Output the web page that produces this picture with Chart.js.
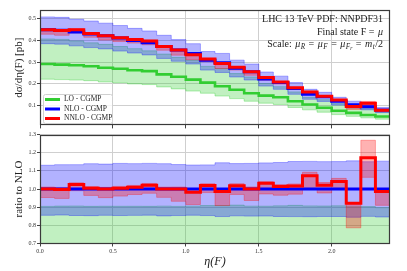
<!DOCTYPE html>
<html><head><meta charset="utf-8">
<script src="https://cdn.jsdelivr.net/npm/chart.js@4.4.1/dist/chart.umd.min.js"></script>
<style>
html,body{margin:0;padding:0;background:#fff;}
#wrap{position:relative;width:407px;height:271px;background:#fff;}
#top{position:absolute;left:0;top:0;}
#bot{position:absolute;left:0;top:130px;}
</style></head><body>
<div id="wrap"><canvas id="top" width="407" height="130"></canvas><canvas id="bot" width="407" height="141"></canvas></div>
<script>
// ---- data ----
const etaEdges = [0.0,0.1,0.2,0.3,0.4,0.5,0.6,0.7,0.8,0.9,1.0,1.1,1.2,1.3,1.4,1.5,1.6,1.7,1.8,1.9,2.0,2.1,2.2,2.3,2.4];
const loCentral = [0.291,0.288,0.285,0.281,0.274,0.269,0.262,0.258,0.243,0.232,0.219,0.205,0.188,0.172,0.156,0.145,0.137,0.119,0.104,0.089,0.075,0.065,0.055,0.048];
const loLow = [0.221,0.219,0.217,0.214,0.208,0.204,0.199,0.196,0.185,0.176,0.166,0.156,0.143,0.131,0.119,0.110,0.104,0.090,0.079,0.068,0.057,0.049,0.042,0.036];
const loHigh = [0.407,0.405,0.398,0.389,0.382,0.372,0.362,0.352,0.337,0.322,0.308,0.280,0.270,0.247,0.231,0.201,0.186,0.162,0.137,0.126,0.108,0.093,0.084,0.070];
const nloCentral = [0.450,0.447,0.439,0.430,0.422,0.411,0.400,0.389,0.372,0.356,0.340,0.308,0.297,0.271,0.255,0.222,0.205,0.178,0.151,0.139,0.119,0.103,0.093,0.078];
const nloLow = [0.385,0.383,0.375,0.367,0.361,0.351,0.342,0.333,0.317,0.304,0.291,0.263,0.252,0.231,0.217,0.189,0.174,0.151,0.128,0.118,0.101,0.087,0.079,0.066];
const nloHigh = [0.509,0.507,0.498,0.490,0.480,0.469,0.456,0.444,0.424,0.404,0.385,0.349,0.340,0.309,0.291,0.254,0.235,0.205,0.174,0.160,0.137,0.119,0.107,0.090];
const nnloCentral = [0.450,0.446,0.450,0.432,0.422,0.413,0.404,0.397,0.372,0.356,0.334,0.314,0.293,0.276,0.255,0.229,0.208,0.181,0.162,0.142,0.124,0.095,0.109,0.077];
const nnloLow = [0.429,0.424,0.435,0.415,0.402,0.395,0.388,0.380,0.355,0.332,0.311,0.302,0.270,0.263,0.239,0.216,0.198,0.173,0.151,0.136,0.119,0.081,0.099,0.071];
const nnloHigh = [0.455,0.451,0.454,0.436,0.426,0.417,0.408,0.401,0.376,0.360,0.337,0.317,0.296,0.279,0.258,0.231,0.210,0.183,0.165,0.144,0.126,0.095,0.118,0.078];
const xTicks = [0.0,0.5,1.0,1.5,2.0];
const yTicksTop = [0.1,0.2,0.3,0.4,0.5];
const yTicksRatio = [0.7,0.8,0.9,1.0,1.1,1.2,1.3];
const seriesNames = ['LO - CGMP','NLO - CGMP','NNLO - CGMP'];
const annotationLines = ['LHC 13 TeV PDF: NNPDF31','Final state F = ','Scale: '];

// ---- styling ----
const SERIF = "'Liberation Serif','DejaVu Serif',serif";
const C = {
  lo:'rgb(50,205,50)', loBand:'rgba(50,205,50,0.3)', loEdge:'rgba(50,205,50,0.35)',
  nlo:'rgb(0,0,255)', nloBand:'rgba(0,0,255,0.3)', nloEdge:'rgba(0,0,255,0.3)',
  nnlo:'rgb(255,0,0)', nnloBand:'rgba(255,0,0,0.3)', nnloEdge:'rgba(255,0,0,0.3)'
};
const gridColor = '#cfcfcf';

function steps(arr){ return etaEdges.map((x,i)=>({x:x, y:arr[Math.min(i,arr.length-1)]})); }
function ratio(a){ return a.map((v,i)=>v/nloCentral[i]); }

function buildDatasets(get){
  const band = (lo,hi,fillC,edgeC,ord)=>[
    {data:steps(get(lo)), stepped:'before', borderColor:edgeC, borderWidth:1, pointRadius:0, fill:false, order:ord},
    {data:steps(get(hi)), stepped:'before', borderColor:edgeC, borderWidth:1, pointRadius:0, fill:'-1', backgroundColor:fillC, order:ord}
  ];
  return [
    ...band(loLow,loHigh,C.loBand,C.loEdge,10),
    ...band(nloLow,nloHigh,C.nloBand,C.nloEdge,9),
    ...band(nnloLow,nnloHigh,C.nnloBand,C.nnloEdge,8),
    {data:steps(get(loCentral)), stepped:'before', borderColor:C.lo, borderWidth:2.6, pointRadius:0, fill:false, order:3},
    {data:steps(get(nloCentral)), stepped:'before', borderColor:C.nlo, borderWidth:3, pointRadius:0, fill:false, order:2},
    {data:steps(get(nnloCentral)), stepped:'before', borderColor:C.nnlo, borderWidth:3, pointRadius:0, fill:false, order:1}
  ];
}

const framePlugin = {
  id:'frame',
  afterDraw(chart){
    const a = chart.chartArea, ctx = chart.ctx;
    ctx.save(); ctx.strokeStyle='#3a3a3a'; ctx.lineWidth=1.2;
    ctx.strokeRect(Math.round(a.left)+0.5, Math.round(a.top)+0.5, Math.round(a.right-a.left)-1, Math.round(a.bottom-a.top)-1);
    ctx.restore();
  }
};

// segments: [text, style, extra gap after]
function drawRich(ctx, segs, xRight, y, size){
  const fontFor = s => s==='i' ? `italic ${size}px ${SERIF}` : s==='sub' ? `italic ${size*0.72}px ${SERIF}` : s==='ss' ? `italic ${size*0.55}px ${SERIF}` : `${size}px ${SERIF}`;
  const dy = s => s==='sub' ? size*0.3 : s==='ss' ? size*0.45 : 0;
  let w = 0;
  segs.forEach(([t,s,g])=>{ ctx.font = fontFor(s); w += ctx.measureText(t).width + (g||0); });
  let x = xRight - w;
  ctx.textBaseline='middle'; ctx.textAlign='left';
  segs.forEach(([t,s,g])=>{ ctx.font = fontFor(s); ctx.fillText(t, x, y+dy(s)); x += ctx.measureText(t).width + (g||0); });
}

const annotPlugin = {
  id:'annot',
  afterDraw(chart){
    const ctx = chart.ctx; ctx.save(); ctx.fillStyle='#222';
    const xr = 383, size = 10;
    drawRich(ctx, [[annotationLines[0],'n']], xr, 19.5, size);
    drawRich(ctx, [[annotationLines[1],'n',1],['μ','i']], xr, 32, size);
    drawRich(ctx, [[annotationLines[2],'n',1],['μ','i',0.5],['R','sub',1],[' = ','n',1],['μ','i',0.5],['F','sub',1],[' = ','n',1],['μ','i',0.5],['F','sub'],['r','ss',1],[' = ','n',1],['m','i',0.5],['t','sub',0.5],['/2','n']], xr, 44, size);
    // legend
    const bx=43, by=94, bw=69, bh=29, r=2;
    ctx.fillStyle='rgba(255,255,255,0.8)'; ctx.strokeStyle='#d0d0d0'; ctx.lineWidth=1;
    ctx.beginPath(); ctx.roundRect(bx+0.5,by+0.5,bw,bh,r); ctx.fill(); ctx.stroke();
    const cols=[C.lo,C.nlo,C.nnlo], ys=[99.5,109,118.5];
    seriesNames.forEach((n,i)=>{
      ctx.strokeStyle=cols[i]; ctx.lineWidth=3; ctx.beginPath(); ctx.moveTo(45,ys[i]); ctx.lineTo(60,ys[i]); ctx.stroke();
      ctx.fillStyle='#222'; ctx.font=`7.5px ${SERIF}`; ctx.textBaseline='middle'; ctx.textAlign='left';
      ctx.fillText(n, 64, ys[i]);
    });
    ctx.restore();
  }
};

const tickFont = {family:SERIF, size:6};
function setTicks(vals){ return s=>{ s.ticks = vals.map(v=>({value:v})); }; }

new Chart(document.getElementById('top'), {
  type:'line',
  data:{datasets:buildDatasets(a=>a)},
  plugins:[framePlugin, annotPlugin],
  options:{
    responsive:false, animation:false, events:[],
    layout:{padding:{left:0,right:17,top:10,bottom:0}},
    plugins:{legend:{display:false}, tooltip:{enabled:false}},
    scales:{
      x:{type:'linear', min:0, max:2.4, afterBuildTicks:setTicks(xTicks),
         ticks:{display:false}, grid:{color:gridColor, tickColor:'#444', tickLength:3}, border:{display:false},
         afterFit:s=>{s.height=3;}},
      y:{type:'linear', min:0.007, max:0.541, afterBuildTicks:setTicks(yTicksTop),
         ticks:{font:tickFont, color:'#333', padding:1, callback:v=>v.toFixed(1)},
         grid:{color:gridColor, tickColor:'#444', tickLength:3}, border:{display:false},
         title:{display:true, text:'dσ/dη(F) [pb]', font:{family:SERIF, size:11}, color:'#222', padding:{top:13,bottom:0}},
         afterFit:s=>{s.width=40;}}
    }
  }
});

new Chart(document.getElementById('bot'), {
  type:'line',
  data:{datasets:buildDatasets(ratio)},
  plugins:[framePlugin],
  options:{
    responsive:false, animation:false, events:[],
    layout:{padding:{left:0,right:17,top:3,bottom:0}},
    plugins:{legend:{display:false}, tooltip:{enabled:false}},
    scales:{
      x:{type:'linear', min:0, max:2.4, afterBuildTicks:setTicks(xTicks),
         ticks:{font:tickFont, color:'#333', padding:1, maxRotation:0, callback:v=>v.toFixed(1)},
         grid:{color:gridColor, tickColor:'#444', tickLength:3}, border:{display:false},
         title:{display:true, text:'η(F)', font:{family:SERIF, size:12, style:'italic'}, color:'#222', padding:{top:0,bottom:2}},
         afterFit:s=>{s.height=27.5;}},
      y:{type:'linear', min:0.7, max:1.3, afterBuildTicks:setTicks(yTicksRatio),
         ticks:{font:tickFont, color:'#333', padding:1, callback:v=>v.toFixed(1)},
         grid:{color:gridColor, tickColor:'#444', tickLength:3}, border:{display:false},
         title:{display:true, text:'ratio to NLO', font:{family:SERIF, size:11}, color:'#222', padding:{top:13,bottom:0}},
         afterFit:s=>{s.width=40;}}
    }
  }
});
</script>
</body></html>
